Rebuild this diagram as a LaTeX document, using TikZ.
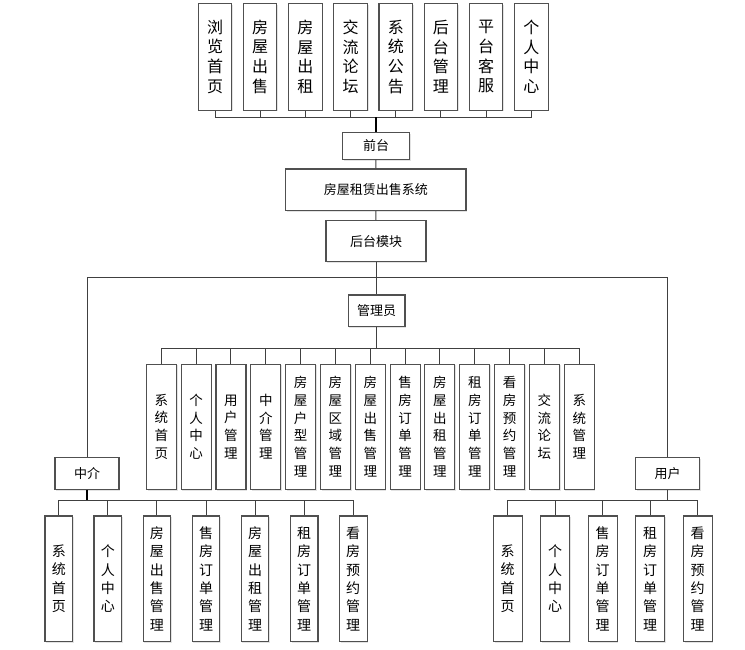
\documentclass[tikz,border=0pt]{standalone}
\usepackage{fontspec}
\newfontfamily\cjk{Noto Sans CJK SC}
\usetikzlibrary{shadows}
\definecolor{boxgray}{HTML}{505050}
\definecolor{linegray}{HTML}{404040}
\tikzset{
  box/.style={draw=boxgray, line width=1.1pt, fill=white, inner sep=0pt, align=center,
    drop shadow={shadow xshift=1.2pt, shadow yshift=-1.2pt, fill=black!18, opacity=0.6}},
  hbox/.style={box, font=\cjk\fontsize{13}{15}\selectfont},
  topbox/.style={box, minimum width=33.5pt, minimum height=106.7pt, font=\cjk\fontsize{16}{19.6}\selectfont},
  admbox/.style={box, minimum width=30pt, minimum height=125.3pt, font=\cjk\fontsize{13.5}{17.7}\selectfont},
  lowbox/.style={box, minimum height=125.7pt, font=\cjk\fontsize{14}{18.3}\selectfont},
  conn/.style={draw=linegray, line width=1pt},
  trunk/.style={draw=black, line width=1.6pt},
}
\begin{document}
\begin{tikzpicture}[x=1pt, y=-1pt]
\useasboundingbox (0,0) rectangle (745,649);
% top row
\foreach \t [count=\i] in {{浏\\览\\首\\页},{房\\屋\\出\\售},{房\\屋\\出\\租},{交\\流\\论\\坛},{系\\统\\公\\告},{后\\台\\管\\理},{平\\台\\客\\服},{个\\人\\中\\心}}{
  \node[topbox] (t\i) at ({215+(\i-1)*45.19},56.7) {\t};
}
\node[hbox, minimum width=66.6pt, minimum height=26.6pt] (qt) at (376,146) {前台};
\node[hbox, minimum width=180.3pt, minimum height=41.7pt] (sys) at (375.8,189.8) {房屋租赁出售系统};
\node[hbox, minimum width=100pt, minimum height=41pt] (ht) at (376,241.2) {后台模块};
\node[hbox, minimum width=56.7pt, minimum height=31.7pt] (gly) at (376.6,310.8) {管理员};
\node[hbox, minimum width=64pt, minimum height=32pt] (zj) at (87,473.3) {中介};
\node[hbox, minimum width=63.6pt, minimum height=32pt] (yh) at (667.5,473.3) {用户};
% admin row
\foreach \t [count=\i] in {{系\\统\\首\\页},{个\\人\\中\\心},{用\\户\\管\\理},{中\\介\\管\\理},{房\\屋\\户\\型\\管\\理},{房\\屋\\区\\域\\管\\理},{房\\屋\\出\\售\\管\\理},{售\\房\\订\\单\\管\\理},{房\\屋\\出\\租\\管\\理},{租\\房\\订\\单\\管\\理},{看\\房\\预\\约\\管\\理},{交\\流\\论\\坛},{系\\统\\管\\理}}{
  \node[admbox] (a\i) at ({161.3+(\i-1)*34.83},426.7) {\t};
}
% agent row
\foreach \t [count=\i] in {{系\\统\\首\\页},{个\\人\\中\\心},{房\\屋\\出\\售\\管\\理},{售\\房\\订\\单\\管\\理},{房\\屋\\出\\租\\管\\理},{租\\房\\订\\单\\管\\理},{看\\房\\预\\约\\管\\理}}{
  \node[lowbox, minimum width=27.7pt] (z\i) at ({58.8+(\i-1)*49.07},578.8) {\t};
}
% user row
\foreach \t [count=\i] in {{系\\统\\首\\页},{个\\人\\中\\心},{售\\房\\订\\单\\管\\理},{租\\房\\订\\单\\管\\理},{看\\房\\预\\约\\管\\理}}{
  \node[lowbox, minimum width=28.7pt] (u\i) at ({507.7+(\i-1)*47.5},578.8) {\t};
}
% top bus
\coordinate (tb) at (376,117.3);
\draw[conn] (t1.south) |- (tb) -| (t8.south);
\foreach \i in {2,...,7}{ \draw[conn] (t\i.south) -- (t\i.south |- tb); }
\draw[trunk] (tb) -- (qt.north);
\draw[conn] (qt.south) -- (sys.north);
\draw[conn] (sys.south) -- (ht.north);
\draw[conn] (ht.south) -- (gly.north -| ht.south);
% middle branch
\coordinate (mb) at (376,277.7);
\draw[conn] (zj.north) |- (mb) -| (yh.north);
% admin bus
\coordinate (ab) at (376,348.3);
\draw[conn] (gly.south -| ab) -- (ab);
\draw[conn] (a1.north) |- (ab) -| (a13.north);
\foreach \i in {2,...,12}{ \draw[conn] (a\i.north) -- (a\i.north |- ab); }
% agent bus
\coordinate (zb) at (87,500.7);
\draw[trunk] (zj.south) -- (zb);
\draw[conn] (z1.north) |- (zb) -| (z7.north);
\foreach \i in {2,...,6}{ \draw[conn] (z\i.north) -- (z\i.north |- zb); }
% user bus
\coordinate (ub) at (667.5,500.7);
\draw[conn] (yh.south) -- (ub);
\draw[conn] (u1.north) |- (ub) -| (u5.north);
\foreach \i in {2,...,4}{ \draw[conn] (u\i.north) -- (u\i.north |- ub); }
\end{tikzpicture}
\end{document}
